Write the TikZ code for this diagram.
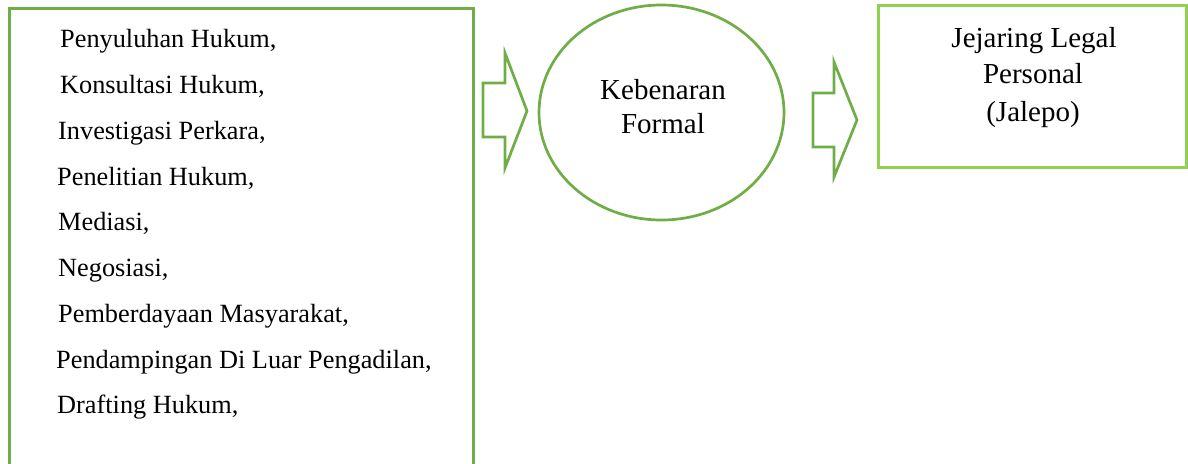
\documentclass[tikz,border=0pt]{standalone}
\usepackage{fontspec}
\setmainfont{Liberation Serif}
\usetikzlibrary{shapes.geometric}
\definecolor{gA}{HTML}{70AD47}
\definecolor{gB}{HTML}{92D050}
\begin{document}
\begin{tikzpicture}[x=1pt,y=-1pt,
  frame/.style={draw=gA,line width=3pt,rectangle,inner sep=0pt},
  frameB/.style={draw=gB,line width=3pt,rectangle,inner sep=0pt},
  oval/.style={draw=gA,line width=2.7pt,ellipse,inner sep=0pt},
  blockarrow/.style={draw=gA,line width=2.7pt,line join=miter},
  item/.style={anchor=base west,inner sep=0pt,font=\fontsize{26.3}{30}\selectfont},
  lbl/.style={anchor=base,inner sep=0pt,font=\fontsize{29}{34}\selectfont}]
\useasboundingbox (0,0) rectangle (1188,463);
\clip (0,0) rectangle (1188,463);
% left box
\node[frame,minimum width=464pt,minimum height=512pt] (list) at (241,264) {};
\node[item] (t1) at (60,47) {Penyuluhan Hukum,};
\node[item] (t2) at (60,93) {Konsultasi Hukum,};
\node[item] (t3) at (58,139) {Investigasi Perkara,};
\node[item] (t4) at (57,185) {Penelitian Hukum,};
\node[item] (t5) at (58,230) {Mediasi,};
\node[item] (t6) at (58,276) {Negosiasi,};
\node[item] (t7) at (58,322) {Pemberdayaan Masyarakat,};
\node[item] (t8) at (56,368) {Pendampingan Di Luar Pengadilan,};
\node[item] (t9) at (57,413) {Drafting Hukum,};
% ellipse
\node[oval,minimum width=245pt,minimum height=215pt] (truth) at (661.5,112.5) {};
\node[lbl] (k1) at (663,99) {Kebenaran};
\node[lbl] (k2) at (663,133) {Formal};
% right box
\node[frameB,minimum width=308pt,minimum height=162pt] (jalepo) at (1032,86) {};
\node[lbl] (j1) at (1034,47) {Jejaring Legal};
\node[lbl] (j2) at (1033,83) {Personal};
\node[lbl] (j3) at (1033,121) {(Jalepo)};
% block arrows
\draw[blockarrow] (483,83) -- (505,83) -- (505,53) -- (527,111) -- (505,168) -- (505,137) -- (483,137) -- cycle;
\draw[blockarrow] (813,93) -- (834,93) -- (834,62) -- (857,120) -- (834,177) -- (834,147) -- (813,147) -- cycle;
\end{tikzpicture}
\end{document}
